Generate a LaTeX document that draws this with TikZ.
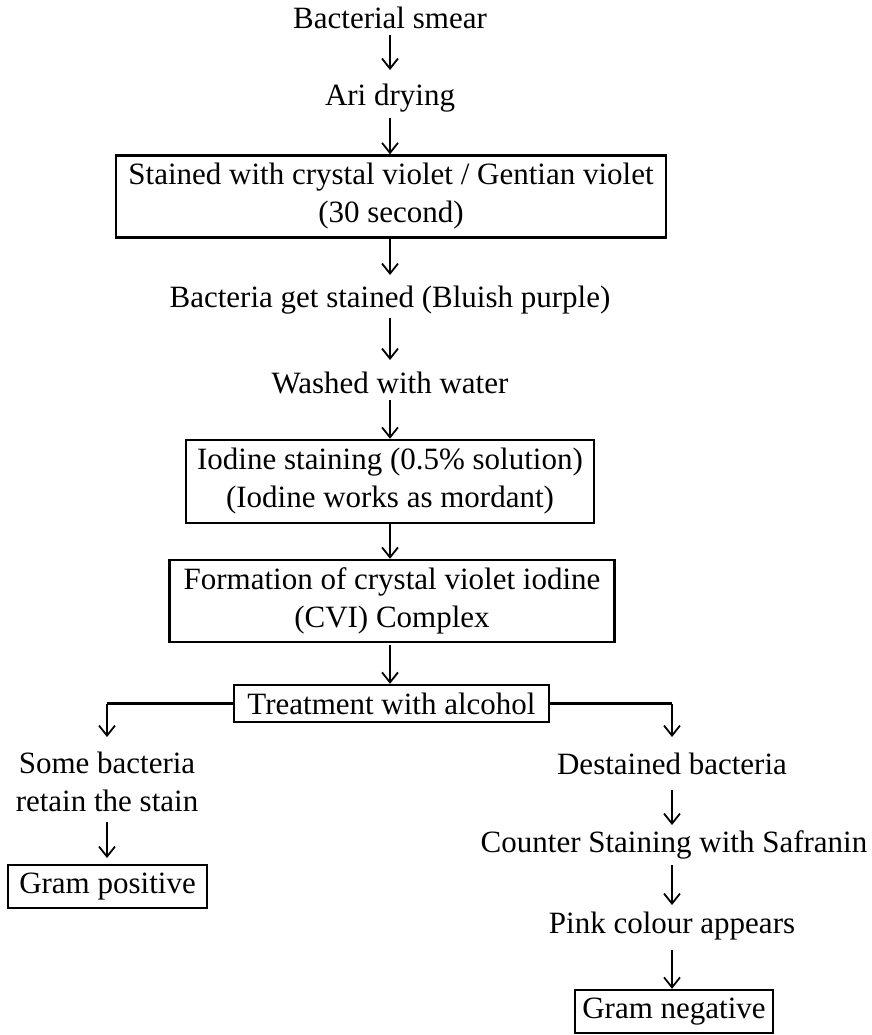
\documentclass[tikz,border=0pt]{standalone}
\usepackage{fontspec}
\setmainfont{Liberation Serif}
\usetikzlibrary{arrows.meta}
\begin{document}
\begin{tikzpicture}[x=1pt,y=-1pt,
  txt/.style={inner sep=0pt,font=\fontsize{31}{38}\selectfont,align=center},
  box/.style={txt,draw,line width=2.4pt,inner sep=0pt},
  arr/.style={line width=1.8pt,-{Straight Barb[length=10pt,width=16pt,line width=1.8pt]}},
  con/.style={line width=2.2pt}]
\useasboundingbox (0,0) rectangle (871,1035);
\node[txt] (n1) at (390,18) {Bacterial smear};
\node[txt] (n2) at (390,98) {Ari drying};
\node[box,minimum width=550pt,minimum height=82pt] (b1) at (391,196.5) {Stained with crystal violet / Gentian violet\\(30 second)};
\node[txt] (n3) at (390,300) {Bacteria get stained (Bluish purple)};
\node[txt] (n4) at (390,383) {Washed with water};
\node[box,minimum width=408pt,minimum height=83pt] (b2) at (390,481.5) {Iodine staining (0.5\% solution)\\(Iodine works as mordant)};
\node[box,minimum width=445pt,minimum height=82pt] (b3) at (392,601) {Formation of crystal violet iodine\\(CVI) Complex};
\node[box,minimum width=315pt,minimum height=37pt] (b4) at (391.5,703.5) {Treatment with alcohol};
\node[txt] (l1) at (107,782) {Some bacteria\\retain the stain};
\node[box,minimum width=199pt,minimum height=43pt] (gp) at (107.5,886.5) {Gram positive};
\node[txt] (r1) at (672,764) {Destained bacteria};
\node[txt] (r2) at (674,845) {Counter Staining with Safranin};
\node[txt] (r3) at (672,926) {Pink colour appears};
\node[box,minimum width=198pt,minimum height=43pt] (gn) at (674,1011.5) {Gram negative};
\coordinate (lc) at (107,703.5);
\coordinate (rc) at (672,703.5);
\coordinate (lt) at (107,737);
\coordinate (rt) at (672,737);
\draw[arr] (390,35) -- (390,70);
\draw[arr] (390,118) -- (b1.north -| 390,0);
\draw[arr] (b1.south -| 390,0) -- (390,275);
\draw[arr] (390,318) -- (390,360);
\draw[arr] (390,400) -- (b2.north -| 390,0);
\draw[arr] (b2.south -| 390,0) -- (b3.north -| 390,0);
\draw[arr] (390,645) -- (b4.north -| 390,0);
\draw[con] (b4.west) -- (lc);
\draw[arr] (lc) -- (lt);
\draw[con] (b4.east) -- (rc);
\draw[arr] (rc) -- (rt);
\draw[arr] (107,822) -- (107,858);
\draw[arr] (672,790) -- (672,825);
\draw[arr] (672,865) -- (672,905);
\draw[arr] (672,950) -- (gn.north -| 672,0);
\end{tikzpicture}
\end{document}
